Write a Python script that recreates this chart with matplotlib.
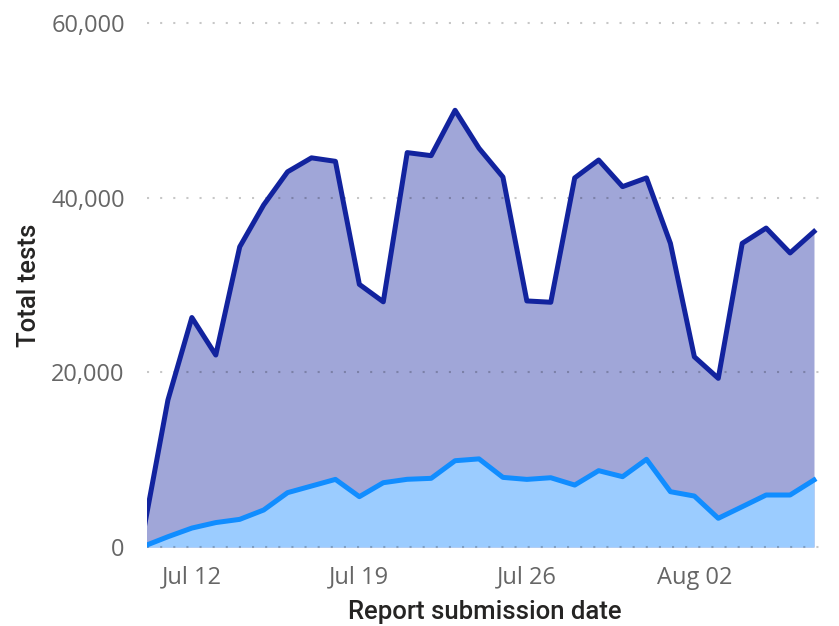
# -*- coding: utf-8 -*-
import numpy as np
import pandas as pd
import matplotlib
matplotlib.use('Agg')
import matplotlib.pyplot as plt
import matplotlib.dates as mdates

### Data (one value per day)
dates = pd.date_range('2020-07-10', '2020-08-07', freq='D')
total_tests = [2100, 16850, 26300, 22000, 34400, 39200, 43000, 44600, 44200, 30100,
               28100, 45200, 44850, 50050, 45700, 42400, 28200, 28050, 42300, 44350,
               41300, 42300, 34800, 21800, 19330, 34800, 36550, 33700, 36150]
positive_tests = [100, 1180, 2170, 2800, 3170, 4240, 6230, 6990, 7750, 5770,
                  7370, 7760, 7870, 9890, 10100, 7980, 7750, 7940, 7100, 8750,
                  8060, 10050, 6340, 5840, 3290, 4620, 5960, 5960, 7680]

x_ticks = pd.to_datetime(['2020-07-12', '2020-07-19', '2020-07-26', '2020-08-02'])
y_ticks = [0, 20000, 40000, 60000]

# colours (Power BI default palette)
dark = '#12239E'
light = '#118DFF'
dark_fill = '#A0A6D8'
light_fill = '#9BCCFF'

plt.rcParams['font.family'] = ['Open Sans', 'DejaVu Sans']

fig = plt.figure(figsize=(8.39, 6.26), dpi=100)
ax = fig.add_axes([0.1752, 0.1206, 0.8045, 0.8475])

ax.fill_between(dates, 0, total_tests, color=dark_fill, linewidth=0, zorder=1)
ax.fill_between(dates, 0, positive_tests, color=light_fill, linewidth=0, zorder=2)
ax.plot(dates, total_tests, color=dark, linewidth=3.6, solid_joinstyle='round', zorder=4)
ax.plot(dates, positive_tests, color=light, linewidth=3.6, solid_joinstyle='round', zorder=4)

### axis limits
ax.set_xlim(dates[0] + pd.Timedelta(hours=3), dates[-1] + pd.Timedelta(hours=8))
ax.set_ylim(-400, 60400)

### dotted grid
for yv in y_ticks:
    ax.axhline(yv, color='black', alpha=0.22, linewidth=1.5,
               linestyle=(0, (1, 5.3)), dash_capstyle='butt', zorder=3)

ax.set_yticks(y_ticks)
ax.set_yticklabels(['{:,}'.format(v) for v in y_ticks])
ax.set_xticks(x_ticks)
ax.xaxis.set_major_formatter(mdates.DateFormatter('%b %d'))

ax.tick_params(axis='both', length=0, labelsize=17, colors='#666666')
ax.tick_params(axis='y', pad=16)
ax.tick_params(axis='x', pad=11)

for s in ax.spines.values():
    s.set_visible(False)

title_font = ['Roboto', 'DejaVu Sans']
ax.set_xlabel('Report submission date', fontsize=18.5, color='#252423',
              family=title_font, fontweight='medium', labelpad=7)
ax.set_ylabel('Total tests', fontsize=18.5, color='#252423',
              family=title_font, fontweight='medium', labelpad=7)

plt.savefig('out.png', dpi=100)
